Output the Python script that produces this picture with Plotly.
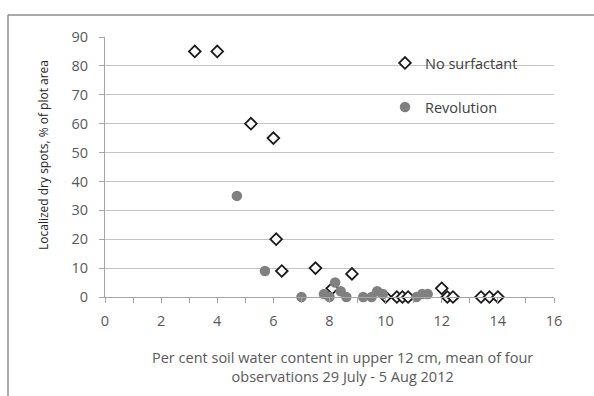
import plotly.graph_objects as go

# Soil water content (%) vs localized dry spot cover (%)
no_surf_x = [3.2, 4.0, 5.2, 6.0, 6.1, 6.3, 7.5, 8.1, 8.8, 10.0, 10.4, 10.6, 10.8, 12.0, 12.2, 12.4, 13.4, 13.7, 14.0]
no_surf_y = [85, 85, 60, 55, 20, 9, 10, 3, 8, 0, 0, 0, 0, 3, 0, 0, 0, 0, 0]

revolution_x = [4.7, 5.7, 7.0, 7.8, 8.0, 8.2, 8.4, 8.6, 9.2, 9.5, 9.7, 9.9, 11.1, 11.3, 11.5]
revolution_y = [35, 9, 0, 1, 0, 5, 2, 0, 0, 0, 2, 1, 0, 1, 1]

x_title = "Per cent soil water content in upper 12 cm, mean of four<br>observations 29 July - 5 Aug 2012"
y_title = "Localized dry spots, % of plot area"

FONT = "Open Sans, Liberation Sans, sans-serif"
TEXT = "#595959"

fig = go.Figure()
fig.add_trace(go.Scatter(
    x=no_surf_x, y=no_surf_y, mode="markers", name="No surfactant",
    marker=dict(symbol="diamond", size=9, color="white",
                line=dict(color="#1a1a1a", width=1.8)),
    cliponaxis=False, legend="legend",
))
fig.add_trace(go.Scatter(
    x=revolution_x, y=revolution_y, mode="markers", name="Revolution",
    marker=dict(symbol="circle", size=10.5, color="#808080",
                line=dict(color="#808080", width=0)),
    cliponaxis=False, legend="legend2",
))

W, H = 594, 396
L, R, T, B = 105, 40, 37, 99
pw, ph = W - L - R, H - T - B

def px(x):
    return (x - L) / pw

def py(y):
    return (H - B - y) / ph

legend_style = dict(xanchor="left", yanchor="middle", bgcolor="rgba(0,0,0,0)",
                    font=dict(size=14.5, color="#404040"), itemwidth=30)

fig.update_layout(
    width=W, height=H,
    margin=dict(l=L, r=R, t=T, b=B),
    paper_bgcolor="white", plot_bgcolor="white",
    font=dict(family=FONT, color=TEXT, size=13),
    showlegend=True,
    legend=dict(x=px(385), y=py(63), **legend_style),
    legend2=dict(x=px(385), y=py(107), **legend_style),
    xaxis=dict(
        range=[0, 16], dtick=2, tick0=0, showgrid=False,
        showline=True, linecolor="#a6a6a6", linewidth=1,
        ticks="outside", ticklen=5, tickcolor="#a6a6a6",
        minor=dict(dtick=1, ticks="outside", ticklen=5, tickcolor="#a6a6a6", showgrid=False),
        tickfont=dict(size=14.5, color=TEXT), zeroline=False, ticklabelstandoff=6,
    ),
    yaxis=dict(
        range=[0, 90], dtick=10, showgrid=True, gridcolor="#c4c4c4", gridwidth=1,
        showline=True, linecolor="#a6a6a6", linewidth=1,
        ticks="outside", ticklen=5, tickcolor="#a6a6a6",
        tickfont=dict(size=14.5, color=TEXT), zeroline=False, ticklabelstandoff=8,
    ),
    annotations=[
        dict(text=y_title, xref="paper", yref="paper", x=px(43), y=py(155),
             xanchor="center", yanchor="middle", textangle=-90, showarrow=False,
             font=dict(size=12, color="#262626")),
        dict(text=x_title, xref="paper", yref="paper", x=px(342), y=py(367),
             xanchor="center", yanchor="middle", showarrow=False,
             font=dict(size=14.5, color=TEXT)),
    ],
    shapes=[
        # white panel behind the legend, covering the gridlines
        dict(type="rect", xref="paper", yref="paper", layer="between",
             x0=px(370), x1=px(556), y0=py(142), y1=py(45),
             fillcolor="white", line=dict(width=0)),
        # outer chart frame (left and top edges)
        dict(type="line", xref="paper", yref="paper",
             x0=px(8), x1=px(8), y0=py(15), y1=py(400),
             line=dict(color="#8c8c8c", width=1.5)),
        dict(type="line", xref="paper", yref="paper",
             x0=px(8), x1=px(600), y0=py(15), y1=py(15),
             line=dict(color="#8c8c8c", width=1.5)),
    ],
)

fig.write_html("out.html")
